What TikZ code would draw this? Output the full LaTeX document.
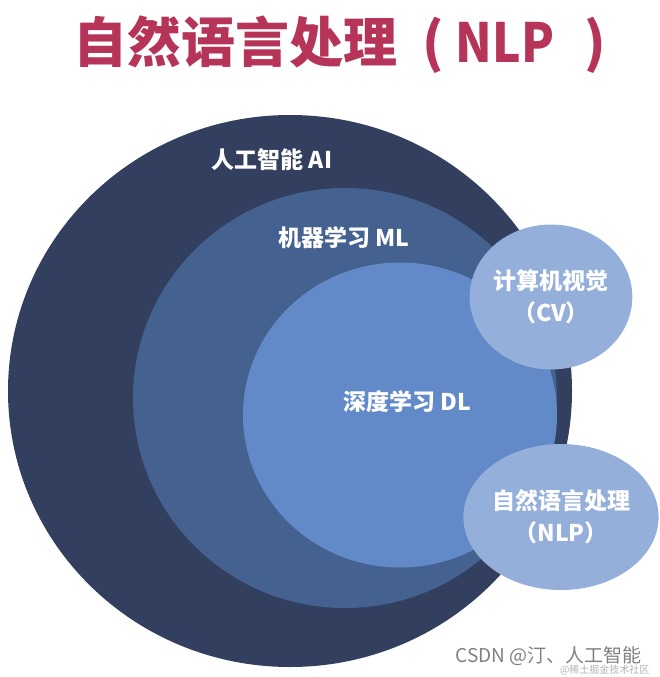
\documentclass[tikz,border=0pt]{standalone}
\usepackage{fontspec}
\newfontfamily\cjk{Noto Sans CJK SC}
\usepackage{graphicx}
\usepackage{tikz}
\usetikzlibrary{shapes.geometric}
\definecolor{aiblue}{RGB}{51,63,94}
\definecolor{mlblue}{RGB}{68,97,143}
\definecolor{dlblue}{RGB}{99,138,200}
\definecolor{appblue}{RGB}{148,175,218}
\definecolor{titlered}{RGB}{181,52,88}
\begin{document}
\begin{tikzpicture}[
x=1pt,y=-1pt,
ring/.style={ellipse,inner sep=0,outer sep=0},
app/.style={ellipse,inner sep=0,fill=appblue,text=white,align=center,font=\cjk\bfseries\fontsize{23}{32}\selectfont},
tag/.style={text=white,font=\cjk\bfseries\fontsize{23}{27}\selectfont},
watermark/.style={text=gray,anchor=east}
]
\useasboundingbox (0,0) rectangle (659,677);
\node[anchor=west,inner sep=0,font=\cjk\bfseries\fontsize{54}{60}\selectfont,text=titlered] (title) at (73,45) {自然语言处理\kern25pt(\kern12pt\scalebox{0.89}[1]{NLP}\kern30pt)};
% nested fields
\node[ring,fill=aiblue,minimum width=564,minimum height=552] (ai) at (290,391) {};
\node[ring,fill=mlblue,minimum width=424,minimum height=420] (ml) at (345,398) {};
\node[ring,fill=dlblue,minimum width=314,minimum height=305] (dl) at (400,415) {};
\node[tag] (ailabel) at (272,160) {人工智能 AI};
\node[tag] (mllabel) at (344,238) {机器学习 ML};
\node[tag] (dllabel) at (407,402) {深度学习 DL};
% applications
\node[app,minimum width=157,minimum height=145] (cv) at (551,297) {计算机视觉\\（CV）};
\node[app,minimum width=177,minimum height=146] (nlp) at (561,517) {自然语言处理\\（NLP）};
\node[watermark,font=\cjk\fontsize{19}{22}\selectfont] (csdn) at (645,656) {CSDN @汀、人工智能};
\node[watermark,text=gray!60,font=\cjk\fontsize{10}{12}\selectfont] (juejin) at (653,670) {@稀土掘金技术社区};
\end{tikzpicture}
\end{document}
